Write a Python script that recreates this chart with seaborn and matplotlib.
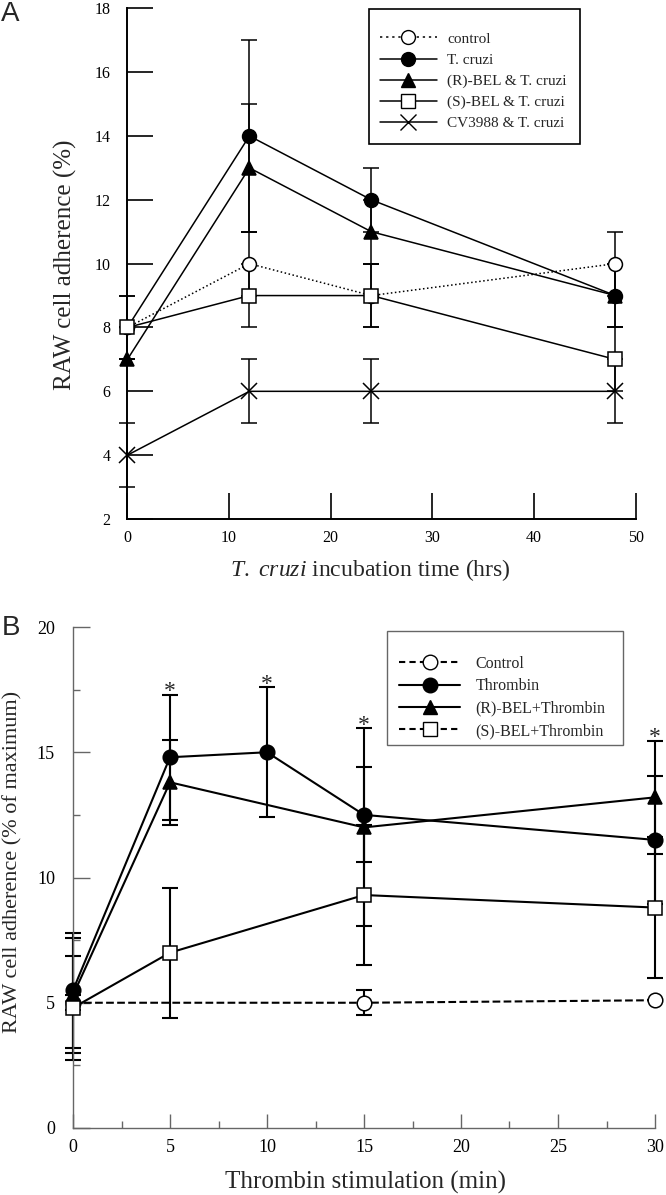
import numpy as np
import pandas as pd
import matplotlib
matplotlib.use("Agg")
import matplotlib.pyplot as plt
from matplotlib.lines import Line2D
from matplotlib.patches import Rectangle
from matplotlib.ticker import MultipleLocator
import seaborn as sns

# ---- panel A data: T. cruzi incubation ----
hours = [0, 12, 24, 48]
a_control = [8, 10, 9, 10]
a_control_err = [1, 1, 1, 1]
a_tcruzi = [8, 14, 12, 9]
a_tcruzi_err = [1, 3, 1, 1]
a_rbel = [7, 13, 11, 9]
a_rbel_err = [0, 2, 1, 1]
a_sbel = [8, 9, 9, 7]
a_sbel_err = [0, 1, 1, 1]
a_cv = [4, 6, 6, 6]
a_cv_err = [1, 1, 1, 1]

# ---- panel B data: thrombin stimulation ----
b_control_min = [0, 15, 30]
b_control = [5.0, 5.0, 5.1]
b_control_err = [0.3, 0.5, 0.0]
b_thr_min = [0, 5, 10, 15, 30]
b_thr = [5.5, 14.8, 15.0, 12.5, 11.5]
b_thr_err = [2.3, 2.5, 2.6, 1.9, 2.55]
b_rbel_min = [0, 5, 15, 30]
b_rbel = [5.3, 13.8, 12.0, 13.2]
b_rbel_err = [2.3, 1.7, 3.95, 2.25]
b_sbel_min = [0, 5, 15, 30]
b_sbel = [4.8, 7.0, 9.3, 8.8]
b_sbel_err = [2.07, 2.6, 2.8, 2.8]
star_minutes = [5, 10, 15, 30]

sns.set_theme(style="ticks")
plt.rcParams["font.family"] = ["Liberation Serif", "DejaVu Serif"]
plt.rcParams["mathtext.fontset"] = "custom"
plt.rcParams["mathtext.rm"] = "Liberation Serif"
plt.rcParams["mathtext.it"] = "Liberation Serif:italic"

W, H = 666, 1195
fig = plt.figure(figsize=(W / 100, H / 100), dpi=100)


def fig_box(x0, x1, ytop, ybot):
    return [x0 / W, 1 - ybot / H, (x1 - x0) / W, (ybot - ytop) / H]


def draw_series(ax, x, y, err, marker, ls, filled, ms, lw, capsize, dashes=None):
    df = pd.DataFrame({"x": x, "y": y})
    kw = dict(color="black", marker=marker, markersize=ms, linewidth=lw,
              markeredgecolor="black", markeredgewidth=1.1,
              markerfacecolor="black" if filled else "white", zorder=3, clip_on=False)
    if dashes is not None:
        kw["dashes"] = dashes
    sns.lineplot(data=df, x="x", y="y", ax=ax, errorbar=None, sort=False,
                 linestyle=ls, legend=False, **kw)
    ax.errorbar(x, y, yerr=err, fmt="none", ecolor="black", elinewidth=lw,
                capsize=capsize, capthick=lw, zorder=2, clip_on=False)


def boxed_legend(ax, handles, labels, box, first_row, handle_x, fontsize, edge, elw, **kw):
    # legend without its own frame, framed by a rectangle given in figure pixels
    x0, x1, ytop, ybot = box
    ax.add_patch(Rectangle((x0 / W, 1 - ybot / H), (x1 - x0) / W, (ybot - ytop) / H,
                           transform=fig.transFigure, facecolor="white", edgecolor=edge,
                           linewidth=elw, zorder=4, clip_on=False))
    row_h = fontsize * 100 / 72 * 0.9
    leg = ax.legend(handles, labels, loc="upper left",
                    bbox_to_anchor=(handle_x / W, 1 - (first_row - row_h / 2) / H),
                    bbox_transform=fig.transFigure, borderaxespad=0, borderpad=0,
                    fontsize=fontsize, numpoints=1, frameon=False, **kw)
    leg.set_zorder(5)
    return leg


# ================= Panel A =================
axA = fig.add_axes(fig_box(127.4, 635.7, 8.3, 519))
lwA = 1.1
draw_series(axA, hours, a_control, a_control_err, "o", ":", False, 10, lwA, 6, dashes=(1.5, 2.5))
draw_series(axA, hours, a_tcruzi, a_tcruzi_err, "o", "-", True, 10, lwA, 6)
draw_series(axA, hours, a_rbel, a_rbel_err, "^", "-", True, 10, lwA, 6)
draw_series(axA, hours, a_sbel, a_sbel_err, "s", "-", False, 10.5, lwA, 6)
draw_series(axA, hours, a_cv, a_cv_err, "x", "-", False, 12, lwA, 6)

axA.set_xlim(0, 50)
axA.set_ylim(2, 18)
axA.set_xticks(range(0, 51, 10))
axA.set_yticks(range(2, 19, 2))
sns.despine(ax=axA)
for s in ("left", "bottom"):
    axA.spines[s].set_linewidth(1.4)
    axA.spines[s].set_color("black")
axA.tick_params(axis="both", direction="in", length=19, width=1.2, labelsize=11.5, colors="black")
axA.tick_params(axis="y", pad=12)
axA.tick_params(axis="x", pad=8)

axA.set_ylabel("RAW cell adherence (%)", fontsize=18, va="center")
axA.yaxis.set_label_coords(-0.121, 0.497)
axA.set_xlabel(r"$\it{T.}$ $\it{cruzi}$ incubation time (hrs)", fontsize=17, va="center")
axA.xaxis.set_label_coords(0.477, -0.100)

handlesA = [
    Line2D([], [], color="black", ls=(0, (1.5, 2.5)), lw=lwA, marker="o", ms=10, mfc="white", mec="black"),
    Line2D([], [], color="black", ls="-", lw=lwA, marker="o", ms=10, mfc="black", mec="black"),
    Line2D([], [], color="black", ls="-", lw=lwA, marker="^", ms=10, mfc="black", mec="black"),
    Line2D([], [], color="black", ls="-", lw=lwA, marker="s", ms=10.5, mfc="white", mec="black"),
    Line2D([], [], color="black", ls="-", lw=lwA, marker="x", ms=12, mec="black"),
]
labelsA = ["control", "T. cruzi", "(R)-BEL & T. cruzi", "(S)-BEL & T. cruzi", "CV3988 & T. cruzi"]
boxed_legend(axA, handlesA, labelsA, (368.6, 579.6, 9, 144), 39, 380, 11, "black", 1.2,
             handlelength=3.7, handletextpad=0.7, labelspacing=0.48)

# ================= Panel B =================
axB = fig.add_axes(fig_box(73, 655, 627, 1128))
lwB = 1.5
gray = "#666666"
draw_series(axB, b_control_min, b_control, b_control_err, "o", "--", False, 10.5, lwB, 5.5, dashes=(3, 2))
draw_series(axB, b_thr_min, b_thr, b_thr_err, "o", "-", True, 10.5, lwB, 5.5)
draw_series(axB, b_rbel_min, b_rbel, b_rbel_err, "^", "-", True, 10.5, lwB, 5.5)
draw_series(axB, b_sbel_min, b_sbel, b_sbel_err, "s", "-", False, 10.5, lwB, 5.5)

# significance marks above the highest cap at each time
tops = {}
for xs, ys, es in [(b_thr_min, b_thr, b_thr_err), (b_rbel_min, b_rbel, b_rbel_err),
                   (b_sbel_min, b_sbel, b_sbel_err)]:
    for xv, yv, ev in zip(xs, ys, es):
        tops[xv] = max(tops.get(xv, 0), yv + ev)
for m in star_minutes:
    axB.text(m, tops[m] - 0.3, "*", ha="center", va="bottom", fontsize=17, clip_on=False)

axB.set_xlim(0, 30)
axB.set_ylim(0, 20)
axB.set_xticks(range(0, 31, 5))
axB.set_yticks(range(0, 21, 5))
axB.xaxis.set_minor_locator(MultipleLocator(2.5))
axB.yaxis.set_minor_locator(MultipleLocator(2.5))
sns.despine(ax=axB)
for s in ("left", "bottom"):
    axB.spines[s].set_linewidth(1.0)
    axB.spines[s].set_color(gray)
axB.tick_params(axis="both", which="major", direction="in", width=1.0, color=gray, labelsize=13, labelcolor="black")
axB.tick_params(axis="y", which="major", length=12, pad=13)
axB.tick_params(axis="x", which="major", length=10, pad=8)
axB.tick_params(axis="both", which="minor", direction="in", width=1.0, color=gray, length=5)

axB.set_ylabel("RAW cell adherence (% of maximum)", fontsize=16, va="center")
axB.yaxis.set_label_coords(-0.1036, 0.531)
axB.set_xlabel("Thrombin stimulation (min)", fontsize=18, va="center")
axB.xaxis.set_label_coords(0.502, -0.108)

handlesB = [
    Line2D([], [], color="black", ls=(0, (3, 2)), lw=lwB, marker="o", ms=10.5, mfc="white", mec="black"),
    Line2D([], [], color="black", ls="-", lw=lwB, marker="o", ms=10.5, mfc="black", mec="black"),
    Line2D([], [], color="black", ls="-", lw=lwB, marker="^", ms=10.5, mfc="black", mec="black"),
    Line2D([], [], color="black", ls=(0, (3, 2)), lw=lwB, marker="s", ms=10.5, mfc="white", mec="black"),
]
labelsB = ["Control", "Thrombin", "(R)-BEL+Thrombin", "(S)-BEL+Thrombin"]
boxed_legend(axB, handlesB, labelsB, (387, 623, 631, 745), 663, 399, 11.5, gray, 1.0,
             handlelength=3.85, handletextpad=0.95, labelspacing=0.4)

# panel letters
fig.text(10.6 / W, 1 - 14 / H, "A", family=["Liberation Sans", "DejaVu Sans"], fontsize=20, ha="center", va="center")
fig.text(10.6 / W, 1 - 628 / H, "B", family=["Liberation Sans", "DejaVu Sans"], fontsize=20, ha="center", va="center")

fig.savefig("out.png", dpi=100)
